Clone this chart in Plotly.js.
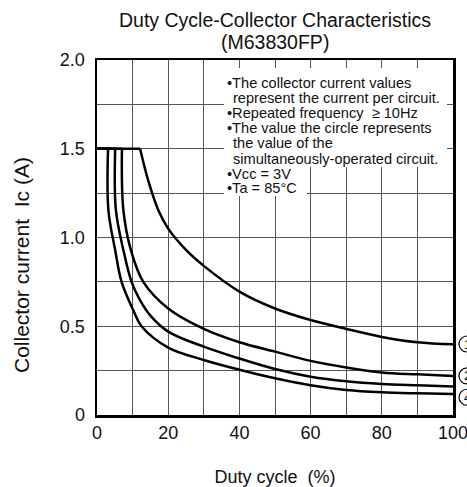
<!DOCTYPE html>
<html><head><meta charset="utf-8">
<script src="https://cdn.plot.ly/plotly-3.0.1.min.js"></script>
<style>html,body{margin:0;padding:0;background:#fff}</style>
</head><body><div id="chart" style="width:467px;height:487px"></div>
<script>
// Curve data (Duty cycle %, Ic A)
const duty1 = [0, 12.1, 14.4, 17.2, 20, 25, 30, 40, 50, 60, 70, 80, 90, 100];
const ic1   = [1.5, 1.5, 1.32, 1.155, 1.05, 0.93, 0.84, 0.695, 0.6, 0.535, 0.485, 0.44, 0.41, 0.398];
const duty2 = [0, 7.0, 7.4, 9.5, 13.0, 20, 30, 40, 50, 60, 70, 80, 90, 100];
const ic2   = [1.5, 1.5, 1.155, 0.93, 0.75, 0.6, 0.485, 0.41, 0.357, 0.305, 0.268, 0.24, 0.229, 0.22];
const duty3 = [0, 5.1, 5.3, 7.4, 9.7, 12, 15, 20, 30, 40, 50, 60, 70, 80, 90, 100];
const ic3   = [1.5, 1.5, 1.155, 0.93, 0.75, 0.65, 0.56, 0.47, 0.385, 0.318, 0.259, 0.216, 0.19, 0.175, 0.167, 0.16];
const duty4 = [0, 3.1, 3.2, 5.1, 6.9, 10.2, 12.5, 20, 30, 40, 50, 60, 70, 80, 90, 100];
const ic4   = [1.5, 1.5, 1.155, 0.93, 0.75, 0.59, 0.5, 0.38, 0.31, 0.255, 0.207, 0.168, 0.141, 0.128, 0.122, 0.118];

const xTickVals = [0,10,20,30,40,50,60,70,80,90,100];
const xTickText = ['0','','20','','40','','60','','80','','100'];
const yTickVals = [0,0.25,0.5,0.75,1.0,1.25,1.5,1.75,2.0];
const yTickText = ['0','','0.5','','1.0','','1.5','','2.0'];

const titleLines = ['Duty Cycle-Collector Characteristics', '(M63830FP)'];
const noteLines = [
  '•The collector current values',
  'represent the current per circuit.',
  '•Repeated frequency \u00a0≥ 10Hz',
  '•The value the circle represents',
  'the value of the',
  'simultaneously-operated circuit.',
  '•Vcc = 3V',
  '•Ta = 85°C'
];
// circled curve labels at the right edge (number, Ic position of label)
const curveLabelNums = ['1','2','4'];
const curveLabelY = [0.40, 0.22, 0.10];

const FONT = 'Liberation Sans, Arial, Helvetica, sans-serif';
const curves = [[duty1, ic1],[duty2, ic2],[duty3, ic3],[duty4, ic4]];
const traces = [];
curves.forEach(([x, y]) => {
  traces.push({x: x.slice(0,2), y: y.slice(0,2), mode:'lines', line:{color:'#000', width:2.5}, hoverinfo:'skip', showlegend:false});
  traces.push({x: x.slice(1), y: y.slice(1), mode:'lines', line:{color:'#000', width:2.5, shape:'spline', smoothing:1}, hoverinfo:'skip', showlegend:false});
});

// plot geometry in px (for placing notes)
const L = 97, T = 60, W = 356, H = 355;
const px = v => (v - L) / W;
const py = v => (T + H - v) / H;
const pyUnits = 2 / H; // Ic per pixel

const annotations = [];
annotations.push({xref:'paper', yref:'paper', x:0.5, y:py(42), xanchor:'center', yanchor:'middle',
  text:titleLines[1], showarrow:false, font:{family:FONT, size:19.5, color:'#111'}});
const noteY = [83, 98, 113, 128, 143, 159, 174, 188];
noteLines.forEach((t, i) => {
  const bullet = t.startsWith('•');
  annotations.push({xref:'paper', yref:'paper', x: px(bullet ? 226 : 232), y: py(noteY[i]),
    xanchor:'left', yanchor:'middle', text:t, showarrow:false, borderpad:0,
    font:{family:FONT, size:14.6, color:'#111'}});
});
const shapes = [
  {type:'rect', xref:'paper', yref:'paper', x0:px(224), x1:px(447), y0:py(68), y1:py(167), fillcolor:'#fff', line:{width:0}, layer:'above'},
  {type:'rect', xref:'paper', yref:'paper', x0:px(224), x1:px(307), y0:py(167), y1:py(196), fillcolor:'#fff', line:{width:0}, layer:'above'}
];
curveLabelNums.forEach((t, i) => {
  annotations.push({xref:'paper', yref:'y', x: px(467.5), y: curveLabelY[i], xanchor:'center', yanchor:'middle',
    text:t, showarrow:false, font:{family:FONT, size:13, color:'#000'}});
  shapes.push({type:'circle', xref:'paper', yref:'y', x0:px(459), x1:px(475),
    y0:curveLabelY[i]-8*pyUnits, y1:curveLabelY[i]+8*pyUnits, line:{color:'#000', width:1.2}, fillcolor:'rgba(0,0,0,0)'});
});
annotations.push({xref:'paper', yref:'paper', x: px(21), y: py(265), xanchor:'center', yanchor:'middle',
  text:'Collector current \u00a0Ic (A)', textangle:-90, showarrow:false, font:{family:FONT, size:21, color:'#111'}});

const axisCommon = {showgrid:true, gridcolor:'#555', gridwidth:1, showline:true, linecolor:'#000', linewidth:2.5,
  mirror:true, ticks:'', zeroline:false, fixedrange:true, tickfont:{family:FONT, size:18, color:'#111'},
  tickmode:'array', ticklabeloverflow:'allow'};

const layout = {
  width:467, height:487,
  margin:{l:L, r:467-L-W, t:T, b:487-T-H},
  paper_bgcolor:'#fff', plot_bgcolor:'#fff',
  title:{text:titleLines[0], font:{family:FONT, size:19.5, color:'#111'},
    xref:'paper', x:0.5, xanchor:'center', yref:'container', y:1-20/487, yanchor:'middle'},
  xaxis:Object.assign({}, axisCommon, {range:[0,100], tickvals:xTickVals, ticktext:xTickText,
    title:{text:'Duty cycle \u00a0(%)', font:{family:FONT, size:18, color:'#111'}, standoff:31}}),
  yaxis:Object.assign({}, axisCommon, {range:[0,2], tickvals:yTickVals, ticktext:yTickText, ticklabelstandoff:6}),
  annotations, shapes, showlegend:false
};
Plotly.newPlot('chart', traces, layout, {staticPlot:true, displayModeBar:false});
</script></body></html>
